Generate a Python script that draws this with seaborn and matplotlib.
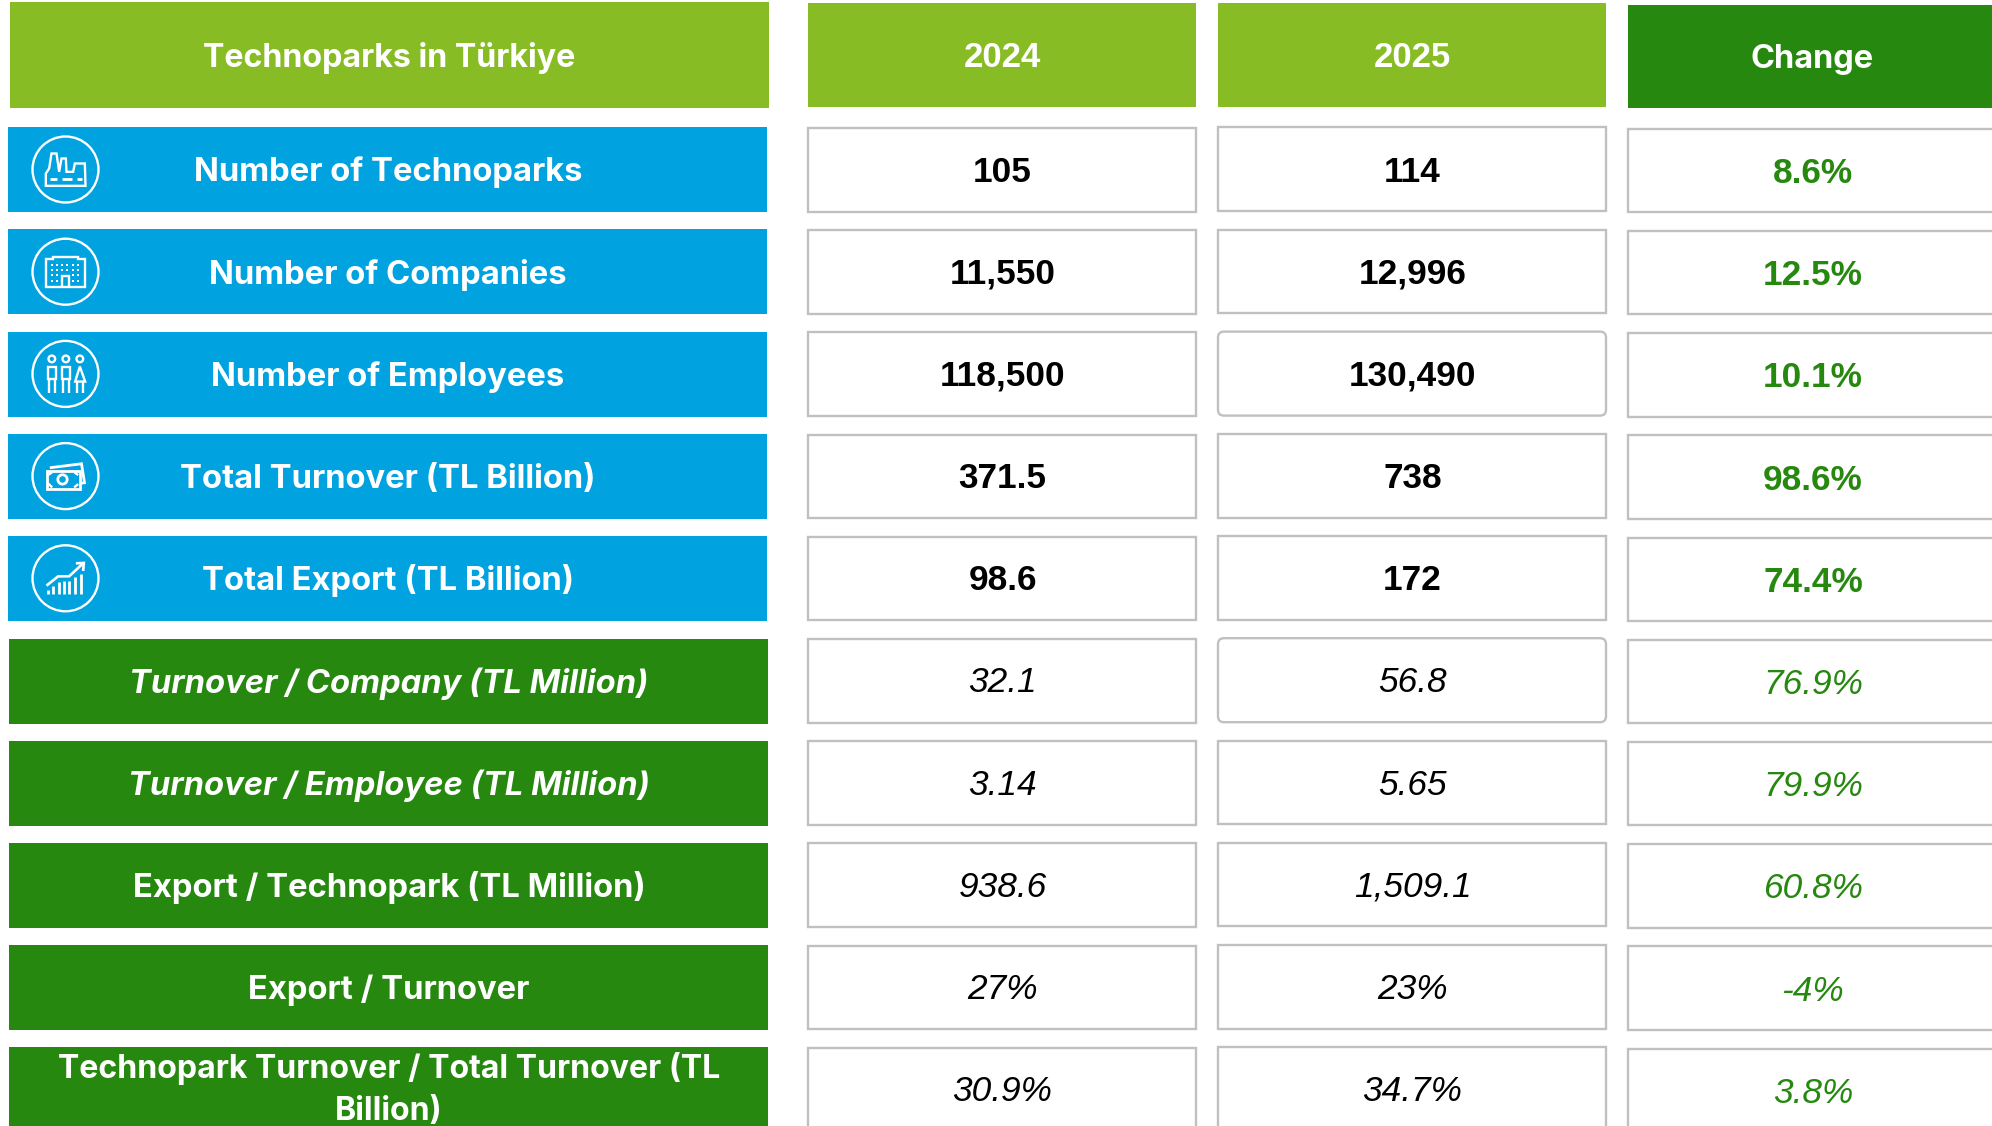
import matplotlib
matplotlib.use("Agg")
import matplotlib.pyplot as plt
from matplotlib.patches import Circle, FancyBboxPatch, Polygon, Rectangle
import seaborn as sns

# table content
title = "Technoparks in Türkiye"
columns = ["2024", "2025", "Change"]
metrics = [
    "Number of Technoparks",
    "Number of Companies",
    "Number of Employees",
    "Total Turnover (TL Billion)",
    "Total Export (TL Billion)",
    "Turnover / Company (TL Million)",
    "Turnover / Employee (TL Million)",
    "Export / Technopark (TL Million)",
    "Export / Turnover",
    "Technopark Turnover / Total Turnover (TL\nBillion)",
]
values_2024 = ["105", "11,550", "118,500", "371.5", "98.6", "32.1", "3.14", "938.6", "27%", "30.9%"]
values_2025 = ["114", "12,996", "130,490", "738", "172", "56.8", "5.65", "1,509.1", "23%", "34.7%"]
values_change = ["8.6%", "12.5%", "10.1%", "98.6%", "74.4%", "76.9%", "79.9%", "60.8%", "-4%", "3.8%"]

W, H = 1992, 1126
ROW0, PITCH, ROW_H = 169.5, 102.2, 85
LIME, BLUE, GREEN, GREY = "#88bc25", "#00a2e0", "#26880f", "#c0c0c0"
LABEL_FONT = "Inter"
VALUE_FONT = "Liberation Sans"

sns.set_theme(style="white")
fig = plt.figure(figsize=(W / 100, H / 100), dpi=100)


def bars(rows, left, width, color, dy=0, edge=None):
    ax = fig.add_axes([0, 0, 1, 1])
    ax.patch.set_alpha(0)
    height = (ROW_H - 1.5 if edge else ROW_H) / PITCH
    sns.barplot(x=[width] * len(rows), y=rows, order=metrics, orient="h", left=left,
                color=color, saturation=1, errorbar=None, width=height,
                edgecolor=edge if edge else color, linewidth=1.7 if edge else 0, ax=ax)
    ax.set_xlim(0, W)
    ax.set_ylim((H - ROW0 - dy) / PITCH, (0 - ROW0 - dy) / PITCH)
    ax.axis("off")
    return ax


# label column and value columns
bars(metrics[:5], 8, 759, BLUE, dy=0.2)
bars(metrics[5:], 9, 759, GREEN, dy=0.6)
bars(metrics, 808, 388, "white", dy=0.3, edge=GREY)
ax_2025 = bars(metrics, 1218, 388, "white", dy=-0.3, edge=GREY)
bars(metrics, 1628, 380, "white", dy=1, edge=GREY)

# overlay in pixels for headers, text and icons
ov = fig.add_axes([0, 0, 1, 1])
ov.patch.set_alpha(0)
ov.set_xlim(0, W)
ov.set_ylim(H, 0)
ov.axis("off")

# two of the 2025 cells have rounded corners in the original
for i in (2, 5):
    ax_2025.patches[i].set_visible(False)
    cy = ROW0 + PITCH * i - 0.3
    ov.add_patch(FancyBboxPatch((1223, cy - 37), 378, 74, boxstyle="round,pad=5,rounding_size=6",
                                facecolor="white", edgecolor=GREY, lw=1.7))

for x0, x1, y0, y1, c in [(10, 769, 2, 108, LIME), (808, 1196, 3, 107, LIME),
                          (1218, 1606, 3, 107, LIME), (1628, 1992, 5, 108, GREEN)]:
    ov.add_patch(Rectangle((x0, y0), x1 - x0, y1 - y0, color=c, lw=0))

HEAD_KW = dict(color="white", fontweight="bold", ha="center", va="baseline")
ov.text(389, 67, title, fontsize=23.2, family=LABEL_FONT, **HEAD_KW)
ov.text(1002, 67, columns[0], fontsize=25, family=VALUE_FONT, **HEAD_KW)
ov.text(1412, 67, columns[1], fontsize=25, family=VALUE_FONT, **HEAD_KW)
ov.text(1812, 68, columns[2], fontsize=23.4, family=LABEL_FONT, **HEAD_KW)

LABEL_KW = dict(color="white", fontsize=23.6, fontweight="bold", family=LABEL_FONT, ha="center", va="baseline")
for i, name in enumerate(metrics):
    cy = ROW0 + PITCH * i
    lab_style = "italic" if i in (5, 6) else "normal"
    if "\n" in name:
        first, second = name.split("\n")
        wrap_kw = {**LABEL_KW, "fontsize": 23.1}
        ov.text(389, cy - 11, first, **wrap_kw)
        ov.text(389, cy + 31, second, **wrap_kw)
    else:
        ov.text(388 + (i > 4), cy + 12, name, style=lab_style, **LABEL_KW)
    top = i < 5
    val_kw = dict(fontsize=25.4, family=VALUE_FONT, ha="center", va="baseline",
                  fontweight="bold" if top else "normal", style="normal" if top else "italic")
    ov.text(1002.5, cy + 12, values_2024[i], color="black", **val_kw)
    ov.text(1412.5, cy + 12, values_2025[i], color="black", **val_kw)
    ov.text(1813, cy + 13.5, values_change[i], color=GREEN, **val_kw)


def line(cx, cy, pts, closed=False, lw=1.7):
    # pts are measured from the icon centre, in reference zoom units (3x)
    xy = [(cx + a / 3, cy + b / 3) for a, b in pts]
    ov.add_patch(Polygon(xy, closed=closed, fill=False, edgecolor="white", lw=lw, joinstyle="miter"))


def ring(cx, cy, a, b, r, lw=1.7):
    ov.add_patch(Circle((cx + a / 3, cy + b / 3), r / 3, fill=False, edgecolor="white", lw=lw))


def icon_factory(cx, cy):
    line(cx, cy, [(-59, 49), (-59, 12), (-49, -3), (-42, -48), (-27, -48), (-19, 7), (-12, -33), (1, -33),
                  (3, 7), (23, 7), (28, -18), (58, -18), (60, 49)], closed=True)
    for a, b in [(-47, -27), (-12, 18), (33, 48)]:
        line(cx, cy, [(a, 29), (b, 29)], lw=2)


def icon_building(cx, cy):
    line(cx, cy, [(-59, -37), (-37, -37), (-37, -45), (38, -45), (38, -37), (59, -37), (59, 45), (-59, 45)], closed=True)
    line(cx, cy, [(-12, 45), (-12, 13), (10, 13), (10, 45)])
    xs = [-42, -27, -12, 3, 21, 38]
    ys = [-20, -5, 11, 27]
    for a in xs:
        for b in ys:
            if not (-14 < a < 12 and b > 5):
                ov.plot(cx + a / 3, cy + b / 3, "s", color="white", ms=2, mew=0)


def icon_people(cx, cy):
    for a in (-41, 1):
        ring(cx, cy, a, -45, 10)
        line(cx, cy, [(a - 13, 16), (a - 13, -20), (a + 13, -20), (a + 13, 16)], closed=True)
        line(cx, cy, [(a - 8, 16), (a - 8, 58)])
        line(cx, cy, [(a + 8, 16), (a + 8, 58)])
    ring(cx, cy, 43, -45, 10)
    line(cx, cy, [(43, -22), (29, 23), (59, 23)], closed=True)
    line(cx, cy, [(35, 23), (35, 58)])
    line(cx, cy, [(53, 23), (53, 58)])


def icon_money(cx, cy):
    line(cx, cy, [(-57, -15), (43, -15), (43, 38), (-57, 38)], closed=True, lw=2)
    ring(cx, cy, -9, 10, 14, lw=2)
    line(cx, cy, [(-47, -25), (48, -37), (57, 20), (43, 22)], lw=2)
    line(cx, cy, [(-52, 22), (-40, 34)])
    line(cx, cy, [(38, -3), (26, -12)])
    line(cx, cy, [(38, 24), (26, 34)])
    line(cx, cy, [(-52, -3), (-40, -12)])


def icon_chart(cx, cy):
    for a, top in [(-54, 34), (-37, 22), (-21, 12), (-5, 7), (11, 7), (28, -3), (45, -13)]:
        line(cx, cy, [(a, 47), (a, top)], lw=2)
    line(cx, cy, [(-57, 22), (-22, -6), (11, -6), (53, -45)], lw=1.9)
    line(cx, cy, [(31, -45), (55, -46), (53, -22)], lw=1.9)


icons = [icon_factory, icon_building, icon_people, icon_money, icon_chart]
for i, draw in enumerate(icons):
    cx, cy = 65.5, ROW0 + PITCH * i
    ov.add_patch(Circle((cx, cy), 33, fill=False, edgecolor="white", lw=1.7))
    draw(cx, cy)

fig.savefig("out.png", dpi=100)
